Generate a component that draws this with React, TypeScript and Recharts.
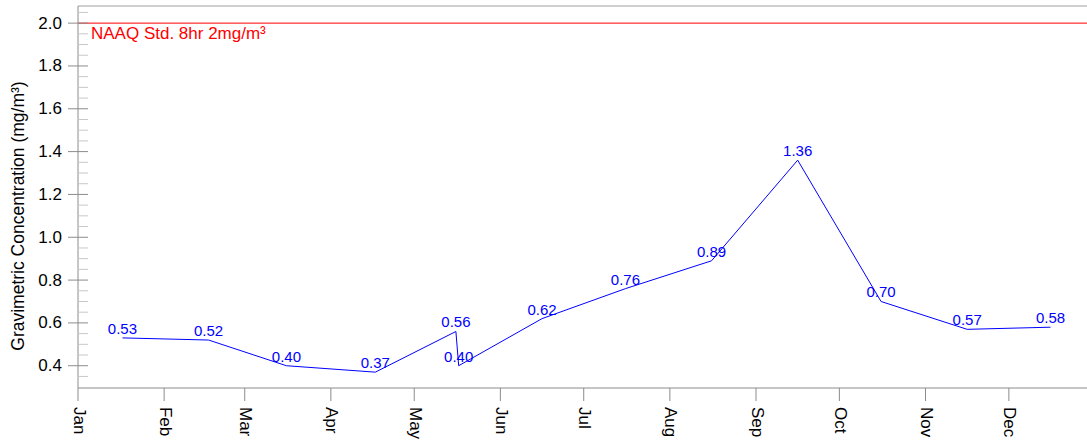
import React from "react";
import {
  LineChart,
  Line,
  XAxis,
  YAxis,
  ReferenceLine,
  LabelList,
} from "recharts";

// day of year (leap year) for each sample, and measured concentration
const sampleDays = [16, 47, 75, 107, 136, 137, 167, 197, 228, 259, 289, 320, 350];
const concentrations = [0.53, 0.52, 0.4, 0.37, 0.56, 0.4, 0.62, 0.76, 0.89, 1.36, 0.7, 0.57, 0.58];

const monthStarts = [0, 31, 60, 91, 121, 152, 182, 213, 244, 274, 305, 335];
const monthLabels = ["Jan", "Feb", "Mar", "Apr", "May", "Jun", "Jul", "Aug", "Sep", "Oct", "Nov", "Dec"];

const yTicks = [
  0.35, 0.4, 0.45, 0.5, 0.55, 0.6, 0.65, 0.7, 0.75, 0.8, 0.85, 0.9, 0.95, 1.0, 1.05, 1.1, 1.15, 1.2,
  1.25, 1.3, 1.35, 1.4, 1.45, 1.5, 1.55, 1.6, 1.65, 1.7, 1.75, 1.8, 1.85, 1.9, 1.95, 2.0, 2.05,
];
const yMajorTicks = [0.4, 0.6, 0.8, 1.0, 1.2, 1.4, 1.6, 1.8, 2.0];

const STANDARD = 2.0;
const STANDARD_LABEL = "NAAQ Std. 8hr 2mg/m³";
const Y_MIN = 0.296;
const Y_MAX = 2.08;

const FONT = "'Liberation Sans', Arial, sans-serif";
const BLUE = "#0000ff";
const AXIS_GREY = "#8c8c8c";
const AXIS_X = 78;

const data = sampleDays.map((day, i) => ({ day, value: concentrations[i] }));

// eslint-disable-next-line @typescript-eslint/no-explicit-any
function YTick(props: any) {
  const { y, payload } = props;
  const v = Number(payload.value);
  const isMajor = yMajorTicks.some((m) => Math.abs(m - v) < 1e-6);
  if (!isMajor) {
    return <line x1={AXIS_X} x2={AXIS_X + 10} y1={y} y2={y} stroke="#c8c8c8" />;
  }
  return (
    <g>
      <line x1={AXIS_X - 10} x2={AXIS_X + 10} y1={y} y2={y} stroke={AXIS_GREY} />
      <text
        x={62}
        y={y}
        textAnchor="end"
        dominantBaseline="central"
        fontSize={17}
        fontFamily={FONT}
        fill="#000"
      >
        {v.toFixed(1)}
      </text>
    </g>
  );
}

// eslint-disable-next-line @typescript-eslint/no-explicit-any
function XTick(props: any) {
  const { x, y, payload } = props;
  const idx = monthStarts.indexOf(Number(payload.value));
  return (
    <text
      x={x + 1}
      y={y}
      transform={`rotate(90, ${x + 1}, ${y})`}
      textAnchor="start"
      dominantBaseline="central"
      fontSize={17}
      fontFamily={FONT}
      fill="#000"
    >
      {monthLabels[idx]}
    </text>
  );
}

// eslint-disable-next-line @typescript-eslint/no-explicit-any
function StandardLabel(props: any) {
  const { viewBox } = props;
  return (
    <text
      x={viewBox.x + 13}
      y={viewBox.y + 16}
      fill="#ff0000"
      fontSize={17}
      fontFamily={FONT}
    >
      {STANDARD_LABEL}
    </text>
  );
}

export default function App() {
  return (
    <div
      style={{
        position: "absolute",
        left: 0,
        top: 0,
        width: 1087,
        height: 441,
        overflow: "hidden",
        background: "#fff",
      }}
    >
      <LineChart
        width={1095}
        height={441}
        data={data}
        margin={{ top: 6, right: 0, bottom: 0, left: 0 }}
        style={{ fontFamily: FONT }}
      >
        <XAxis
          type="number"
          dataKey="day"
          domain={[0, 366]}
          ticks={monthStarts}
          interval={0}
          height={53}
          tickSize={13}
          tickMargin={6}
          axisLine={{ stroke: AXIS_GREY }}
          tickLine={{ stroke: AXIS_GREY }}
          tick={<XTick />}
        />
        <YAxis
          type="number"
          domain={[Y_MIN, Y_MAX]}
          ticks={yTicks}
          interval={0}
          width={78}
          tickSize={10}
          tickMargin={6}
          tickLine={false}
          axisLine={{ stroke: AXIS_GREY }}
          tick={<YTick />}
          allowDataOverflow
        />
        <ReferenceLine y={Y_MAX} stroke="#a0a0a0" strokeWidth={1} />
        <ReferenceLine
          y={STANDARD}
          stroke="#ff0000"
          strokeWidth={1}
          label={<StandardLabel />}
        />
        <Line
          type="linear"
          dataKey="value"
          stroke={BLUE}
          strokeWidth={1}
          dot={false}
          activeDot={false}
          isAnimationActive={false}
        >
          <LabelList
            dataKey="value"
            position="top"
            offset={4}
            fill={BLUE}
            fontSize={15}
            fontFamily={FONT}
            // eslint-disable-next-line @typescript-eslint/no-explicit-any
            formatter={(v: any) => Number(v).toFixed(2)}
          />
        </Line>
        <text
          x={18}
          y={216}
          transform="rotate(-90, 18, 216)"
          textAnchor="middle"
          dominantBaseline="central"
          fontSize={17.5}
          fontFamily={FONT}
          fill="#000"
        >
          Gravimetric Concentration (mg/m³)
        </text>
      </LineChart>
    </div>
  );
}
